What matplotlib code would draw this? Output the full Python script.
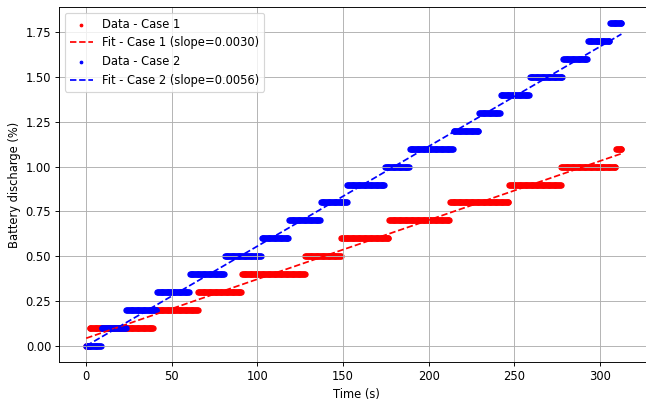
import numpy as np
import matplotlib
matplotlib.use('Agg')
import matplotlib.pyplot as plt

# step levels (%) and the time (s) at which each level starts
case1_levels = [0.0, 0.1, 0.2, 0.3, 0.4, 0.5, 0.6, 0.7, 0.8, 0.9, 1.0, 1.1]
case1_starts = [0, 2, 39.5, 65.5, 91, 128, 149, 177, 212.5, 247, 277.5, 309.5]
case1_end = 312.5

case2_levels = [0.0, 0.1, 0.2, 0.3, 0.4, 0.5, 0.6, 0.7, 0.8, 0.9,
                1.0, 1.1, 1.2, 1.3, 1.4, 1.5, 1.6, 1.7, 1.8]
case2_starts = [0, 9, 23.5, 41.5, 60.5, 81, 102.5, 118.5, 137, 152.5,
                174.5, 189, 214.5, 229.5, 242, 259, 278.5, 293, 306]
case2_end = 312.5

slope_labels = ['0.0030', '0.0056']


def sample_steps(starts, levels, end, dt=0.5):
    t = np.arange(0, end + dt / 2, dt)
    idx = np.searchsorted(starts, t, side='right') - 1
    return t, np.array(levels)[idx]


t1, y1 = sample_steps(case1_starts, case1_levels, case1_end)
t2, y2 = sample_steps(case2_starts, case2_levels, case2_end)

# the reference looks like a shrunk render, so use a lower dpi
dpi = 83
fig = plt.figure(figsize=(646 / dpi, 403 / dpi), dpi=dpi)
# right edge of the axes runs just past the picture, as in the reference
ax = fig.add_axes([0.0918, 0.1017, 0.92, 0.8802])

for t, y, col, n, lab in [(t1, y1, 'red', 1, slope_labels[0]),
                          (t2, y2, 'blue', 2, slope_labels[1])]:
    p = np.polyfit(t, y, 1)
    ax.scatter(t, y, s=20, color=col, label=f'Data - Case {n}')
    ax.plot(t, np.polyval(p, t), '--', color=col,
            label=f'Fit - Case {n} (slope={lab})')

ax.set_xlim(-15.7, 331.3)
ax.set_xlabel('Time (s)')
ax.set_ylabel('Battery discharge (%)')
ax.set_xticks([0, 50, 100, 150, 200, 250, 300])
ax.grid(True)
ax.legend(loc='upper left', markerscale=0.5)

fig.savefig('out.png', dpi=dpi)
